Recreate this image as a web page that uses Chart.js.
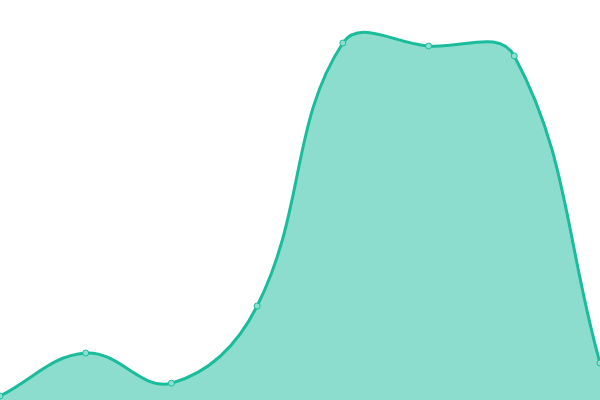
<!DOCTYPE html>
<html><head><meta charset="utf-8">
<script src="https://cdn.jsdelivr.net/npm/chart.js@4"></script>
<style>html,body{margin:0;padding:0;background:#fff}#wrap{width:600px;height:400px}</style>
</head><body><div id="wrap"><canvas id="c"></canvas></div>
<script>
const labels = ["1","2","3","4","5","6","7","8"];
const values = [1, 11.75, 4.2, 23.5, 89.25, 88.5, 86, 9.25];
const yMin = 0, yMax = 100;
new Chart(document.getElementById('c'), {
  type: 'line',
  data: { labels: labels, datasets: [{
    data: values,
    borderColor: '#1abc9c',
    backgroundColor: 'rgba(26,188,156,0.5)',
    pointBackgroundColor: '#8ce0cf',
    pointBorderColor: '#1abc9c',
    pointRadius: 3,
    pointBorderWidth: 1,
    borderWidth: 3,
    fill: true,
    tension: 0.4
  }]},
  options: {
    responsive: true, maintainAspectRatio: false, animation: false,
    layout: { padding: 0, autoPadding: false },
    plugins: { legend: { display: false }, tooltip: { enabled: false } },
    scales: {
      x: { display: false, offset: false },
      y: { display: false, min: yMin, max: yMax }
    }
  }
});
</script></body></html>
